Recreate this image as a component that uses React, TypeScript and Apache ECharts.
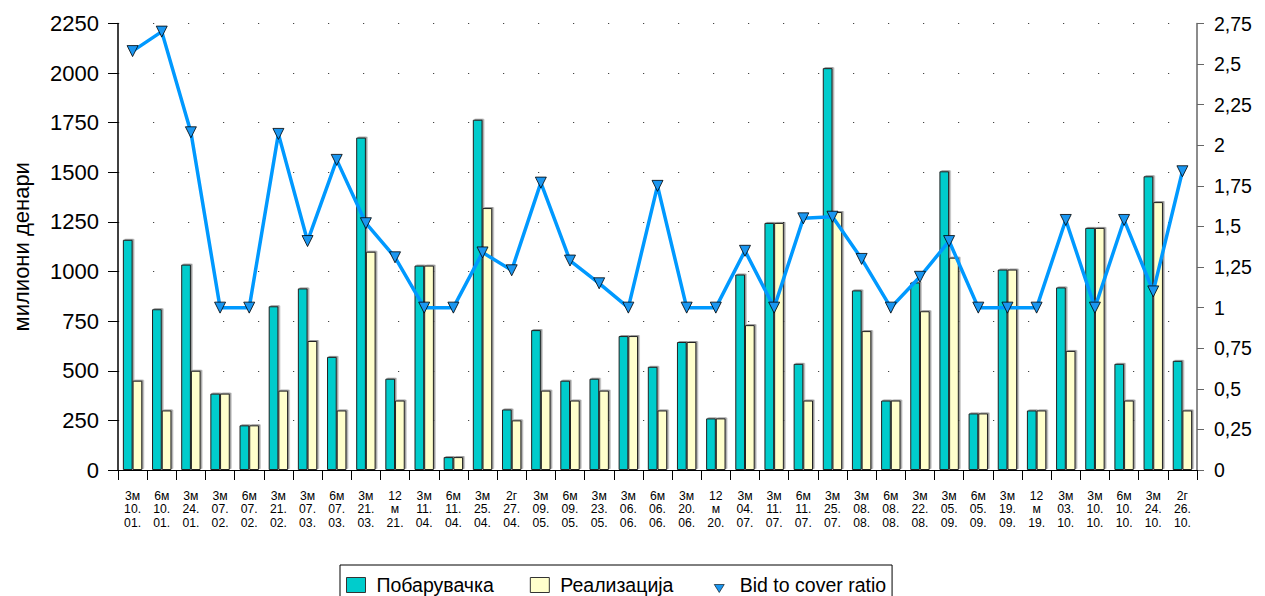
import React, { useEffect, useRef } from "react";
import * as echarts from "echarts";

const categories: string[] = [
  "3м\n10.\n01.", "6м\n10.\n01.", "3м\n24.\n01.", "3м\n07.\n02.", "6м\n07.\n02.",
  "3м\n21.\n02.", "3м\n07.\n03.", "6м\n07.\n03.", "3м\n21.\n03.", "12\nм\n21.",
  "3м\n11.\n04.", "6м\n11.\n04.", "3м\n25.\n04.", "2г\n27.\n04.", "3м\n09.\n05.",
  "6м\n09.\n05.", "3м\n23.\n05.", "3м\n06.\n06.", "6м\n06.\n06.", "3м\n20.\n06.",
  "12\nм\n20.", "3м\n04.\n07.", "3м\n11.\n07.", "6м\n11.\n07.", "3м\n25.\n07.",
  "3м\n08.\n08.", "6м\n08.\n08.", "3м\n22.\n08.", "3м\n05.\n09.", "6м\n05.\n09.",
  "3м\n19.\n09.", "12\nм\n19.", "3м\n03.\n10.", "3м\n10.\n10.", "6м\n10.\n10.",
  "3м\n24.\n10.", "2г\n26.\n10.",
];

const demand: number[] = [
  1160, 810, 1035, 385, 225, 825, 915, 570, 1675, 460,
  1030, 65, 1765, 305, 705, 450, 460, 675, 520, 645,
  260, 985, 1245, 535, 2025, 905, 350, 945, 1505, 285,
  1010, 300, 920, 1220, 535, 1480, 550,
];

const realization: number[] = [
  450, 300, 500, 385, 225, 400, 650, 300, 1100, 350,
  1030, 65, 1320, 250, 400, 350, 400, 675, 300, 645,
  260, 730, 1245, 350, 1300, 700, 350, 800, 1070, 285,
  1010, 300, 600, 1220, 350, 1350, 300,
];

const bidToCover: number[] = [
  2.58, 2.7, 2.08, 1.0, 1.0, 2.07, 1.41, 1.91, 1.52, 1.31,
  1.0, 1.0, 1.34, 1.23, 1.77, 1.29, 1.15, 1.0, 1.75, 1.0,
  1.0, 1.35, 1.0, 1.55, 1.56, 1.3, 1.0, 1.19, 1.41, 1.0,
  1.0, 1.0, 1.54, 1.0, 1.54, 1.1, 1.84,
];

const leftTicks = { min: 0, max: 2250, interval: 250 };
const rightTicks = { min: 0, max: 2.75, interval: 0.25 };

export default function App() {
  const ref = useRef<HTMLDivElement>(null);
  useEffect(() => {
    if (!ref.current) return;
    const chart = echarts.init(ref.current, null, { renderer: "svg" });
    const font = "Arial, 'Liberation Sans', sans-serif";
    const barShadow = {
      shadowColor: "rgba(0,0,0,0.4)",
      shadowOffsetX: 1.5,
      shadowOffsetY: -1,
      shadowBlur: 0,
    };
    chart.setOption({
      animation: false,
      textStyle: { fontFamily: font },
      grid: { left: 118, right: 68, top: 23.5, bottom: 126, containLabel: false },
      legend: {
        left: 340,
        top: 565,
        orient: "horizontal",
        borderColor: "#000",
        borderWidth: 1,
        padding: [10, 6, 10, 6],
        itemGap: 36,
        itemWidth: 19,
        itemHeight: 15,
        textStyle: { fontSize: 19.5, color: "#000", fontFamily: font, padding: [0, 0, 0, 6] },
        data: [
          { name: "Побарувачка", icon: "rect", itemStyle: { borderColor: "#333", borderWidth: 1 } },
          { name: "Реализација", icon: "rect", itemStyle: { borderColor: "#333", borderWidth: 1 } },
          {
            name: "Bid to cover ratio",
            icon: "path://M0,0M19,15M4.5,7L14.5,7L9.5,15Z",
            itemStyle: { color: "#1A96F0", borderColor: "#000", borderWidth: 0.6 },
          },
        ],
      },
      xAxis: {
        type: "category",
        data: categories,
        boundaryGap: true,
        axisLine: { lineStyle: { color: "#000", width: 1 } },
        axisTick: { show: true, length: 10, alignWithLabel: false, lineStyle: { color: "#000" } },
        axisLabel: {
          interval: 0,
          fontSize: 12.2,
          lineHeight: 13.5,
          color: "#000",
          margin: 19,
          fontFamily: font,
        },
        splitLine: { show: false },
      },
      yAxis: [
        {
          type: "value",
          ...leftTicks,
          name: "милиони денари",
          nameLocation: "middle",
          nameGap: 86,
          nameTextStyle: { fontSize: 22, color: "#000", fontFamily: font },
          axisLine: { show: true, lineStyle: { color: "#000", width: 1.5 } },
          axisTick: { show: true, length: 10, lineStyle: { color: "#000" } },
          axisLabel: {
            fontSize: 22,
            color: "#000",
            margin: 19,
            fontFamily: font,
            formatter: (v: number) => String(v),
          },
          splitLine: { show: true, lineStyle: { color: "#444", width: 1.2, type: [1.2, 33.8] } },
        },
        {
          type: "value",
          ...rightTicks,
          position: "right",
          axisLine: { show: true, lineStyle: { color: "#666", width: 1.5 } },
          axisTick: { show: true, length: 7, lineStyle: { color: "#666" } },
          axisLabel: {
            fontSize: 19.5,
            color: "#000",
            margin: 17,
            fontFamily: font,
            formatter: (v: number) => String(+v.toFixed(2)).replace(".", ","),
          },
          splitLine: { show: false },
        },
      ],
      series: [
        {
          name: "Побарувачка",
          type: "bar",
          yAxisIndex: 0,
          data: demand,
          barWidth: 9.7,
          barGap: "0%",
          itemStyle: { color: "#00CCCC", borderColor: "#222", borderWidth: 1, ...barShadow },
        },
        {
          name: "Реализација",
          type: "bar",
          yAxisIndex: 0,
          data: realization,
          barWidth: 9.7,
          barGap: "0%",
          itemStyle: { color: "#FFFFCC", borderColor: "#222", borderWidth: 1, ...barShadow },
        },
        {
          name: "Bid to cover ratio",
          type: "line",
          yAxisIndex: 1,
          data: bidToCover,
          symbol: "triangle",
          symbolRotate: 180,
          symbolSize: 11,
          lineStyle: { color: "#0099FF", width: 3.5 },
          itemStyle: { color: "#1A96F0", borderColor: "#000", borderWidth: 0.8 },
          z: 5,
        },
      ],
    });
    return () => chart.dispose();
  }, []);
  return (
    <div
      ref={ref}
      style={{ position: "fixed", left: 0, top: 0, width: 1265, height: 596, background: "#fff" }}
    />
  );
}
